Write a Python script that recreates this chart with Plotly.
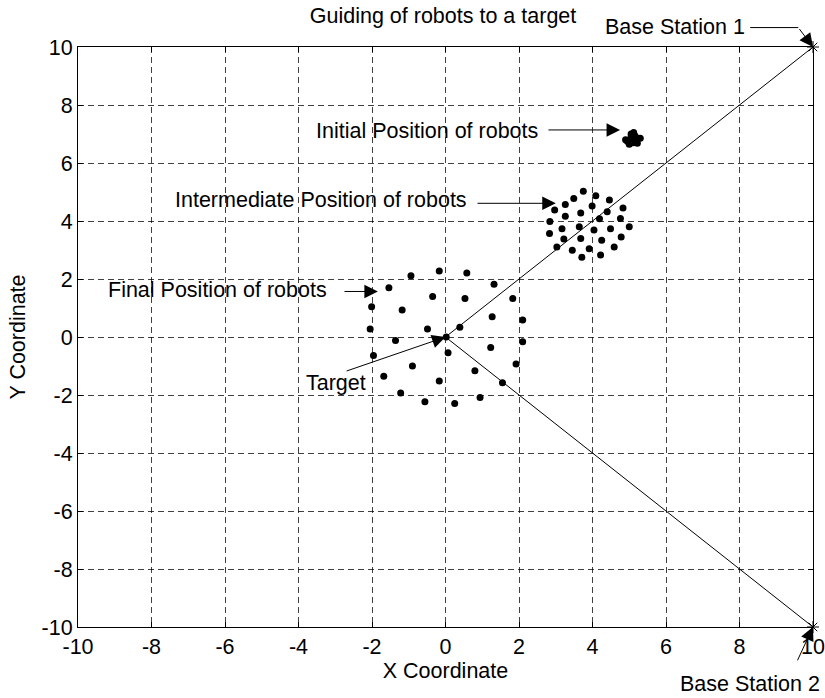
import plotly.graph_objects as go

# ---- data ----
initial_x = [4.95, 5.05, 5.15, 5.25, 5.00, 5.10, 5.20, 4.90, 5.05, 5.30, 5.12, 5.22]
initial_y = [6.75, 7.00, 6.95, 6.85, 6.65, 6.70, 6.80, 6.80, 6.90, 6.85, 7.05, 6.68]

inter_x = [3.75, 4.09, 3.49, 4.46, 3.26, 3.99, 2.97, 4.83, 3.68, 3.26, 4.40, 2.84, 4.19, 4.76, 3.17,
           3.64, 4.04, 4.49, 5.00, 2.83, 3.22, 3.68, 4.25, 4.78, 3.03, 3.45, 3.91, 4.59, 3.71, 4.22]
inter_y = [5.03, 4.87, 4.78, 4.72, 4.57, 4.52, 4.38, 4.45, 4.28, 4.16, 4.32, 3.98, 4.08, 4.09, 3.73,
           3.80, 3.69, 3.73, 3.80, 3.57, 3.38, 3.40, 3.34, 3.45, 3.10, 2.99, 3.04, 3.10, 2.75, 2.83]

final_x = [-0.94, -0.17, 0.58, -1.54, 1.32, -2.01, -0.35, 0.53, 1.83, -1.18, 1.27, 2.10, -2.05, -0.49,
           0.39, -1.36, 0.02, 2.10, 0.07, 1.23, -1.96, -0.90, 1.92, 0.80, -1.68, -0.17, 1.55, -1.22,
           0.94, -0.56, 0.25]
final_y = [2.11, 2.28, 2.21, 1.70, 1.82, 1.04, 1.40, 1.33, 1.33, 0.93, 0.70, 0.59, 0.28, 0.28,
           0.34, -0.12, 0.00, -0.16, -0.54, -0.36, -0.64, -1.00, -0.93, -1.16, -1.35, -1.52, -1.58,
           -1.93, -2.09, -2.23, -2.29]

target = (0, 0)
base1 = (10, 10)
base2 = (10, -10)
ticks = [-10, -8, -6, -4, -2, 0, 2, 4, 6, 8, 10]
YMIN, YMAX = -10, 10

FONT = "Liberation Sans, Arial, sans-serif"
FS = 21.5

fig = go.Figure()

# guiding lines from target to base stations
fig.add_trace(go.Scatter(x=[target[0], base1[0]], y=[target[1], base1[1]], mode="lines",
                         line=dict(color="black", width=1), showlegend=False, hoverinfo="skip"))
fig.add_trace(go.Scatter(x=[target[0], base2[0]], y=[target[1], base2[1]], mode="lines",
                         line=dict(color="black", width=1), showlegend=False, hoverinfo="skip"))

dot = dict(color="black", size=7)
fig.add_trace(go.Scatter(x=initial_x, y=initial_y, mode="markers", marker=dot, showlegend=False))
fig.add_trace(go.Scatter(x=inter_x, y=inter_y, mode="markers", marker=dot, showlegend=False))
fig.add_trace(go.Scatter(x=final_x, y=final_y, mode="markers", marker=dot, showlegend=False))

fig.add_trace(go.Scatter(x=[base1[0], base2[0]], y=[base1[1], base2[1]], mode="markers",
                         marker=dict(symbol="asterisk-open", size=10, color="black",
                                     line=dict(color="black", width=1)),
                         showlegend=False, cliponaxis=False))


def yp(v):
    """data y -> y-domain fraction (so labels outside the axis range still show)"""
    return (v - YMIN) / (YMAX - YMIN)


ann = []
def text(t, x, y, xanchor="right"):
    ann.append(dict(text=t, x=x, y=yp(y), xref="x", yref="y domain", showarrow=False,
                    xanchor=xanchor, yanchor="middle", font=dict(family=FONT, size=FS, color="black")))

def arrow(x0, y0, x1, y1, head=2):
    ann.append(dict(text="", x=x1, y=yp(y1), ax=x0, ay=yp(y0), xref="x", yref="y domain",
                    axref="x", ayref="y domain",
                    showarrow=True, arrowhead=head, arrowsize=2.7, arrowwidth=1, arrowcolor="black",
                    standoff=0, startstandoff=0))

text("Initial Position of robots", 2.57, 7.12)
arrow(2.76, 7.14, 4.75, 7.14)

text("Intermediate Position of robots", 0.64, 4.71)
arrow(0.83, 4.61, 3.0, 4.61)

text("Final Position of robots", -3.17, 1.61)
arrow(-2.79, 1.57, -1.84, 1.57)

text("Target", -2.98, -1.58, xanchor="center")
arrow(-2.73, -1.19, 0, 0)

text("Base Station 1", 8.21, 10.70)
arrow(8.25, 10.67, 9.6, 10.67, head=0)
arrow(9.6, 10.67, 10, 10)

text("Base Station 2", 8.29, -11.97, xanchor="center")
arrow(9.56, -11.2, 10, -10)

axis_common = dict(range=[-10, 10], tickvals=ticks, ticktext=[str(t) for t in ticks],
                   showline=True, linecolor="black", linewidth=1, mirror="ticks",
                   ticks="inside", ticklen=5, tickcolor="black", automargin=False,
                   showgrid=True, gridcolor="rgba(0,0,0,0.75)", gridwidth=1, griddash="6px,4px",
                   zeroline=False, tickfont=dict(family=FONT, size=FS, color="black"))

fig.update_layout(
    width=825, height=698,
    margin=dict(l=78, r=12, t=47, b=71),
    paper_bgcolor="white", plot_bgcolor="white",
    font=dict(family=FONT, size=FS, color="black"),
    title=dict(text="Guiding of robots to a target", x=0.537, xanchor="center",
               y=1 - 15 / 698, yanchor="middle", font=dict(family=FONT, size=FS, color="black")),
    xaxis=dict(**axis_common, title=dict(text="X Coordinate", standoff=0, font=dict(family=FONT, size=FS))),
    yaxis=dict(**axis_common, title=dict(text="Y Coordinate", standoff=10, font=dict(family=FONT, size=FS))),
    annotations=ann,
    showlegend=False,
)

fig.write_html("out.html")
